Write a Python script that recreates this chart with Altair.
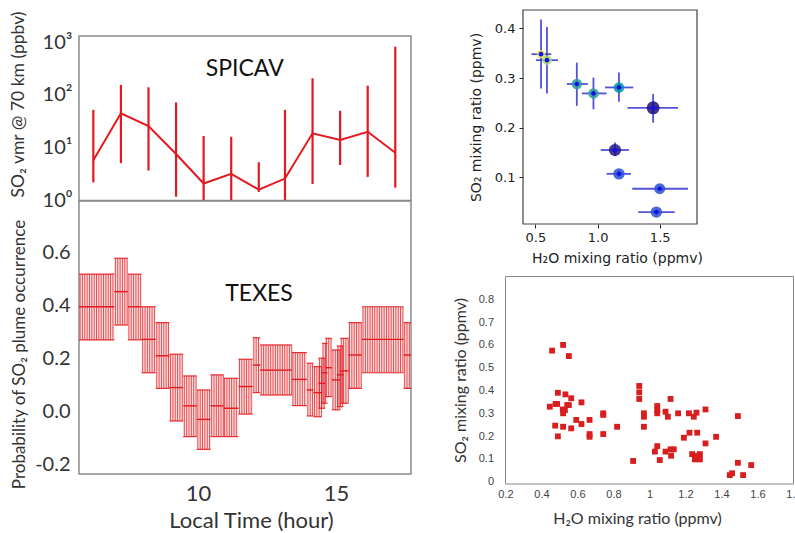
import altair as alt
import pandas as pd

# ---------------- data ----------------
# SPICAV (top-left)
sp_hour = [6.2, 7.2, 8.2, 9.2, 10.2, 11.2, 12.2, 13.15, 14.15, 15.15, 16.15, 17.15]
sp_vmr = [5.8, 44.8, 25.7, 7.6, 2.1, 3.2, 1.6, 2.6, 18.7, 14.0, 20.0, 8.0]
sp_lo = [2.2, 5.1, 3.7, 1.18, 1.0, 1.0, 1.45, 1.0, 2.05, 4.7, 2.8, 1.75]
sp_hi = [52, 154, 139, 72, 16.6, 16.1, 5.3, 52, 206, 50, 149, 815]

# TEXES (bottom-left) bins
tx_start = [5.68, 6.96, 7.45, 7.95, 8.46, 8.96, 9.46, 9.95, 10.45, 10.92, 11.46, 11.98, 12.25,
            13.40, 13.94, 14.18, 14.36, 14.49, 14.61, 14.85, 15.03, 15.15, 15.45, 15.94, 17.45]
tx_end = [6.96, 7.45, 7.95, 8.46, 8.96, 9.46, 9.95, 10.45, 10.92, 11.46, 11.98, 12.25, 13.40,
          13.94, 14.18, 14.49, 14.61, 14.69, 14.85, 15.15, 15.27, 15.45, 15.94, 17.45, 17.72]
tx_mid = [0.397, 0.454, 0.397, 0.274, 0.212, 0.092, 0.023, -0.028, 0.023, 0.014, 0.096, 0.177, 0.158,
          0.123, 0.083, 0.073, 0.108, 0.148, 0.167, 0.121, 0.140, 0.155, 0.215, 0.274, 0.215]
tx_lo = [0.272, 0.328, 0.272, 0.148, 0.089, -0.034, -0.093, -0.141, -0.093, -0.093, -0.008, 0.073, 0.064,
         0.024, -0.015, -0.018, 0.014, 0.033, 0.058, 0.008, 0.020, 0.033, 0.089, 0.148, 0.089]
tx_hi = [0.520, 0.580, 0.520, 0.397, 0.337, 0.218, 0.136, 0.083, 0.140, 0.127, 0.199, 0.280, 0.253,
         0.224, 0.184, 0.171, 0.203, 0.259, 0.278, 0.234, 0.249, 0.278, 0.337, 0.397, 0.337]

# top-right scatter with error bars
tr_h2o = [0.545, 0.593, 0.833, 0.967, 1.172, 1.447, 1.140, 1.172, 1.500, 1.473]
tr_so2 = [0.348, 0.336, 0.288, 0.269, 0.281, 0.240, 0.155, 0.107, 0.077, 0.030]
tr_xlo = [0.468, 0.505, 0.753, 0.873, 1.060, 1.241, 1.025, 1.073, 1.279, 1.327]
tr_xhi = [0.628, 0.681, 0.921, 1.073, 1.287, 1.647, 1.252, 1.268, 1.727, 1.620]
tr_ylo = [0.279, 0.269, 0.244, 0.237, 0.252, 0.210, 0.143, 0.101, 0.077, 0.030]
tr_yhi = [0.418, 0.403, 0.331, 0.301, 0.311, 0.268, 0.170, 0.113, 0.077, 0.030]
tr_c = [0.95, 0.85, 0.50, 0.50, 0.47, 0.02, 0.05, 0.30, 0.30, 0.30]
tr_w = [0.35, 0.45, 0.55, 0.55, 0.55, 0.85, 0.75, 0.65, 0.60, 0.65]

# bottom-right scatter
br_h2o = [0.446, 0.459, 0.520, 0.552, 0.478, 0.491, 0.487, 0.476, 0.491, 0.518, 0.520, 0.533,
          0.543, 0.530, 0.552, 0.565, 0.520, 0.565, 0.593, 0.622, 0.622, 0.667, 0.667, 0.667,
          0.743, 0.743, 0.743, 0.820, 0.943, 0.943, 0.943, 0.909, 0.969, 0.969, 0.969, 1.043,
          1.043, 1.043, 1.030, 1.043, 1.057, 1.089, 1.102, 1.117, 1.089, 1.117, 1.120, 1.135,
          1.159, 1.191, 1.219, 1.222, 1.246, 1.261, 1.265, 1.237, 1.252, 1.280, 1.280, 1.311,
          1.311, 1.370, 1.491, 1.491, 1.446, 1.459, 1.520, 1.565, 1.265]
br_so2 = [0.329, 0.575, 0.600, 0.551, 0.341, 0.390, 0.341, 0.246, 0.199, 0.317, 0.300, 0.383,
          0.336, 0.314, 0.336, 0.366, 0.241, 0.234, 0.271, 0.253, 0.348, 0.271, 0.209, 0.197,
          0.300, 0.209, 0.293, 0.241, 0.420, 0.392, 0.363, 0.091, 0.300, 0.285, 0.241, 0.332,
          0.314, 0.300, 0.132, 0.156, 0.095, 0.307, 0.285, 0.363, 0.132, 0.142, 0.114, 0.142,
          0.300, 0.193, 0.300, 0.215, 0.285, 0.303, 0.215, 0.121, 0.098, 0.098, 0.121, 0.317,
          0.168, 0.197, 0.288, 0.083, 0.029, 0.037, 0.029, 0.073, 0.113]

# ---------------- styling ----------------
RED = "#e3191f"
FL = "Lato"
FM = "DejaVu Sans"
W, H = 795, 533

# ---------------- SPICAV panel ----------------
sp_df = pd.DataFrame({"h": sp_hour, "v": sp_vmr, "lo": sp_lo, "hi": sp_hi})
sp_frame_df = pd.DataFrame({"h": [5.68], "h2": [17.72], "v": [1.0], "v2": [1300.0]})
sp_txt_df = pd.DataFrame({"h": [11.69], "v": [308.0], "t": ["SPICAV"]})
sx = alt.Scale(domain=[5.68, 17.72], range=[79, 411], nice=False, zero=False)
sy = alt.Scale(type="log", domain=[1, 1300], range=[200.5, 36], nice=False)
sy_axis = alt.Axis(orient="left", offset=-79, values=[1, 10, 100, 1000],
                   labelExpr="'10' + (datum.value >= 1000 ? '³' : datum.value >= 100 ? '²' : datum.value >= 10 ? '¹' : '⁰')",
                   labelFont=FL, labelFontSize=20, labelColor="#333", labelPadding=7,
                   labelOverlap=False, ticks=False, domain=False,
                   title="SO₂ vmr @ 70 km (ppbv)", titleFont=FL, titleFontSize=17.5,
                   titleFontWeight="normal", titleColor="#333", titleX=-61, titleY=104,
                   titleAlign="center", titleBaseline="middle")


def spx(f):
    return alt.X(f, scale=sx, axis=None)


def spy(f):
    return alt.Y(f, scale=sy, axis=sy_axis)


sp_frame = alt.Chart(sp_frame_df).mark_rect(fillOpacity=0, stroke="#8a8a8a", strokeWidth=1.5).encode(
    x=spx("h:Q"), x2="h2:Q", y=spy("v:Q"), y2="v2:Q")
sp_err = alt.Chart(sp_df).mark_rule(color=RED, strokeWidth=2.2).encode(
    x=spx("h:Q"), y=spy("lo:Q"), y2="hi:Q")
sp_line = alt.Chart(sp_df).mark_line(color=RED, strokeWidth=2).encode(
    x=spx("h:Q"), y=spy("v:Q"))
sp_txt = alt.Chart(sp_txt_df).mark_text(font=FL, fontSize=23, color="#111").encode(
    x=spx("h:Q"), y=spy("v:Q"), text="t:N")
spicav = alt.layer(sp_frame, sp_err, sp_line, sp_txt)

# ---------------- TEXES panel ----------------
tx_df = pd.DataFrame({"h": tx_start, "h2": tx_end, "lo": tx_lo, "mid": tx_mid, "hi": tx_hi})
tx_frame_df = pd.DataFrame({"h": [5.68], "h2": [17.72], "lo": [-0.234], "hi": [0.796]})
tx_txt_df = pd.DataFrame({"h": [12.21], "mid": [0.445], "t": ["TEXES"]})
txs = alt.Scale(domain=[5.68, 17.72], range=[79, 411], nice=False, zero=False)
tys = alt.Scale(domain=[-0.234, 0.796], range=[474, 201], nice=False, zero=False)
tx_xaxis = alt.Axis(orient="bottom", offset=-59, values=[10, 15], format="d",
                    labelFont=FL, labelFontSize=22, labelColor="#333", labelPadding=9,
                    labelFlush=False, labelOverlap=False, ticks=False, domain=False,
                    title="Local Time (hour)", titleFont=FL, titleFontSize=22,
                    titleFontWeight="normal", titleColor="#333", titleX=251, titleY=46,
                    titleAlign="center", titleBaseline="middle")
tx_yaxis = alt.Axis(orient="left", offset=-79, values=[-0.2, 0, 0.2, 0.4, 0.6],
                    labelExpr="datum.value < 0 ? '-' + format(-datum.value, '.1f') : format(datum.value, '.1f')",
                    labelFont=FL, labelFontSize=20, labelColor="#333", labelPadding=9,
                    labelOverlap=False, ticks=False, domain=False,
                    title="Probability of SO₂ plume occurrence", titleFont=FL, titleFontSize=17,
                    titleFontWeight="normal", titleColor="#333", titleX=-60, titleY=354,
                    titleAlign="center", titleBaseline="middle")


def txx(f):
    return alt.X(f, scale=txs, axis=tx_xaxis)


def txy(f):
    return alt.Y(f, scale=tys, axis=tx_yaxis)


tx_frame = alt.Chart(tx_frame_df).mark_rect(fillOpacity=0, stroke="#8a8a8a", strokeWidth=1.5).encode(
    x=txx("h:Q"), x2="h2:Q", y=txy("lo:Q"), y2="hi:Q")
tx_fill = alt.Chart(tx_df).mark_rect(color="#f2a9a9", opacity=0.35).encode(
    x=txx("h:Q"), x2="h2:Q", y=txy("lo:Q"), y2="hi:Q")
tx_hatch = (alt.Chart(tx_df)
            .transform_calculate(hx="sequence(datum.h + 0.04, datum.h2, 0.085)")
            .transform_flatten(["hx"])
            .mark_rule(color=RED, strokeWidth=1, opacity=0.75)
            .encode(x=txx("hx:Q"), y=txy("lo:Q"), y2="hi:Q"))
tx_top = alt.Chart(tx_df).mark_rule(color=RED, strokeWidth=1.2, opacity=0.9).encode(
    x=txx("h:Q"), x2="h2:Q", y=txy("hi:Q"))
tx_bot = alt.Chart(tx_df).mark_rule(color=RED, strokeWidth=1.2, opacity=0.9).encode(
    x=txx("h:Q"), x2="h2:Q", y=txy("lo:Q"))
tx_mid_l = alt.Chart(tx_df).mark_rule(color=RED, strokeWidth=1.4).encode(
    x=txx("h:Q"), x2="h2:Q", y=txy("mid:Q"))
tx_txt = alt.Chart(tx_txt_df).mark_text(font=FL, fontSize=23, color="#111").encode(
    x=txx("h:Q"), y=txy("mid:Q"), text="t:N")
texes = alt.layer(tx_frame, tx_fill, tx_hatch, tx_top, tx_bot, tx_mid_l, tx_txt)

# ---------------- top-right panel ----------------
tr_df = pd.DataFrame({"x": tr_h2o, "y": tr_so2, "xlo": tr_xlo, "xhi": tr_xhi,
                      "ylo": tr_ylo, "yhi": tr_yhi, "c": tr_c, "w": tr_w})
tr_frame_df = pd.DataFrame({"x": [0.4], "xhi": [1.8], "y": [0.006], "yhi": [0.437]})
trxs = alt.Scale(domain=[0.4, 1.8], range=[523, 697], nice=False, zero=False)
trys = alt.Scale(domain=[0.006, 0.437], range=[224, 10], nice=False, zero=False)
tr_xaxis = alt.Axis(orient="bottom", offset=-309, values=[0.5, 1.0, 1.5], format=".1f",
                    labelFont=FM, labelFontSize=13, labelColor="#222", labelPadding=3,
                    labelFlush=False, labelOverlap=False, ticks=True, tickSize=4,
                    tickColor="#222", domain=False,
                    title="H₂O mixing ratio (ppmv)", titleFont=FM, titleFontSize=14,
                    titleFontWeight="normal", titleColor="#222", titleX=617, titleY=34,
                    titleAlign="center", titleBaseline="middle")
tr_yaxis = alt.Axis(orient="left", offset=-523, values=[0.1, 0.2, 0.3, 0.4], format=".1f",
                    labelFont=FM, labelFontSize=13, labelColor="#222", labelPadding=4,
                    labelOverlap=False, ticks=True, tickSize=4, tickColor="#222", domain=False,
                    title="SO₂ mixing ratio (ppmv)", titleFont=FM, titleFontSize=14,
                    titleFontWeight="normal", titleColor="#222", titleX=-47, titleY=117,
                    titleAlign="center", titleBaseline="middle")


def trx(f):
    return alt.X(f, scale=trxs, axis=tr_xaxis)


def try_(f):
    return alt.Y(f, scale=trys, axis=tr_yaxis)


BLUE = "#3434cc"
tr_frame = alt.Chart(tr_frame_df).mark_rect(fillOpacity=0, stroke="#444", strokeWidth=1.2).encode(
    x=trx("x:Q"), x2="xhi:Q", y=try_("y:Q"), y2="yhi:Q")
tr_xerr = alt.Chart(tr_df).mark_rule(color=BLUE, strokeWidth=1.8, opacity=0.85).encode(
    x=trx("xlo:Q"), x2="xhi:Q", y=try_("y:Q"))
tr_yerr = alt.Chart(tr_df).mark_rule(color=BLUE, strokeWidth=1.8, opacity=0.85).encode(
    x=trx("x:Q"), y=try_("ylo:Q"), y2="yhi:Q")
tr_halo = alt.Chart(tr_df).mark_circle(opacity=0.85).encode(
    x=trx("x:Q"), y=try_("y:Q"),
    color=alt.Color("c:Q", scale=alt.Scale(domain=[0, 0.3, 0.5, 0.95],
                                           range=["#1e0878", "#2c4fd0", "#2a9e9a", "#e6e15a"]),
                    legend=None),
    size=alt.Size("w:Q", scale=alt.Scale(domain=[0, 1], range=[0, 200]), legend=None))
tr_dot = alt.Chart(tr_df).mark_circle(color="#1212e8", size=22, opacity=1).encode(
    x=trx("x:Q"), y=try_("y:Q"))
topright = alt.layer(tr_frame, tr_xerr, tr_yerr, tr_halo, tr_dot)

# ---------------- bottom-right panel ----------------
br_df = pd.DataFrame({"x": br_h2o, "y": br_so2})
br_frame_df = pd.DataFrame({"x": [0.2], "x2": [1.8], "y": [-0.01], "y2": [0.9]})
brxs = alt.Scale(domain=[0.2, 1.8], range=[505.5, 793.5], nice=False, zero=False)
brys = alt.Scale(domain=[-0.01, 0.9], range=[484, 276.5], nice=False, zero=False)
br_xaxis = alt.Axis(orient="bottom", offset=-49,
                    values=[0.2, 0.4, 0.6, 0.8, 1.0, 1.2, 1.4, 1.6, 1.8], format=".1~f",
                    labelFont="Liberation Sans", labelFontSize=11, labelColor="#444",
                    labelPadding=4, labelFlush=False, labelOverlap=False, ticks=False, domain=False,
                    title="H₂O mixing ratio (ppmv)", titleFont=FL, titleFontSize=16,
                    titleFontWeight="normal", titleColor="#333", titleX=637, titleY=34,
                    titleAlign="center", titleBaseline="middle")
br_yaxis = alt.Axis(orient="left", offset=-505.5,
                    values=[0, 0.1, 0.2, 0.3, 0.4, 0.5, 0.6, 0.7, 0.8], format=".1~f",
                    labelFont="Liberation Sans", labelFontSize=11, labelColor="#444",
                    labelPadding=12, labelOverlap=False, ticks=False, domain=False,
                    title="SO₂ mixing ratio (ppmv)", titleFont=FL, titleFontSize=16,
                    titleFontWeight="normal", titleColor="#333", titleX=-45.5, titleY=380,
                    titleAlign="center", titleBaseline="middle")


def brx(f):
    return alt.X(f, scale=brxs, axis=br_xaxis)


def bry(f):
    return alt.Y(f, scale=brys, axis=br_yaxis)


br_frame = alt.Chart(br_frame_df).mark_rect(fillOpacity=0, stroke="#888", strokeWidth=1).encode(
    x=brx("x:Q"), x2="x2:Q", y=bry("y:Q"), y2="y2:Q")
br_pts = alt.Chart(br_df).mark_square(color="#d81e1e", size=34, opacity=1).encode(
    x=brx("x:Q"), y=bry("y:Q"))
botright = alt.layer(br_frame, br_pts)

chart = (alt.layer(spicav, texes, topright, botright)
         .resolve_scale(x="independent", y="independent")
         .properties(width=W, height=H, autosize=alt.AutoSizeParams(type="none"), padding=0,
                     background="white")
         .configure_view(stroke=None)
         .configure_axis(grid=False))

chart.save("out.html", embed_options={"renderer": "svg", "actions": False})
